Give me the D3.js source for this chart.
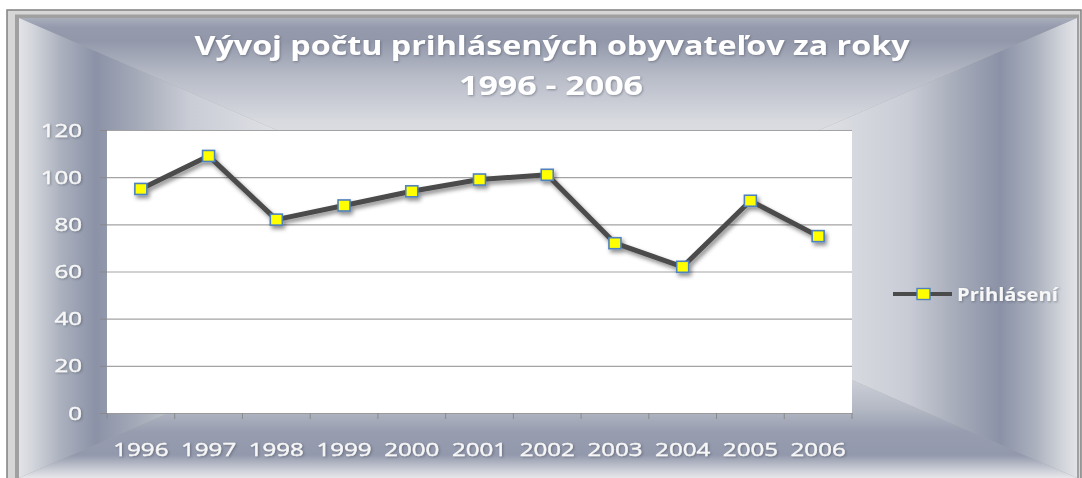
<!DOCTYPE html>
<html><head><meta charset="utf-8">
<script src="https://cdn.jsdelivr.net/npm/d3@7"></script>
<style>body{margin:0;background:#fff}svg{display:block}</style>
</head><body>
<svg id="chart" width="1082" height="478"></svg>
<script>
const categories = ["1996","1997","1998","1999","2000","2001","2002","2003","2004","2005","2006"];
const values = [95,109,82,88,94,99,101,72,62,90,75];
const yTicks = [0,20,40,60,80,100,120];
const seriesName = "Prihlásení";
const titleLines = ["Vývoj počtu prihlásených obyvateľov za roky","1996 - 2006"];

const svg = d3.select("#chart");
const defs = svg.append("defs");
const FONT = "'Open Sans', 'DejaVu Sans', sans-serif";

// frame
svg.append("rect").attr("x",7).attr("y",10).attr("width",1074).attr("height",470)
  .attr("fill","#d6d6d6").attr("stroke","#808080").attr("stroke-width",1.5);
svg.append("rect").attr("x",15).attr("y",14.5).attr("width",1064).attr("height",466)
  .attr("fill","#a0a0a0");

// interior rectangular gradient
const X0=19, Y0=18, X1=1077, Y1=478, CX=548, CY=248;
function grad(id, x1,y1,x2,y2, stops){
  const g = defs.append("linearGradient").attr("id",id).attr("gradientUnits","userSpaceOnUse")
    .attr("x1",x1).attr("y1",y1).attr("x2",x2).attr("y2",y2);
  stops.forEach(s=>g.append("stop").attr("offset",s[0]).attr("stop-color",s[1]));
}
const sideStops = [[0,"#e2e3e8"],[0.025,"#d3d6dc"],[0.08,"#aab0bd"],[0.145,"#8b92a7"],[0.22,"#a3a9b7"],[0.32,"#c9ccd5"],[0.5,"#e0e2e6"],[1,"#f6f6f8"]];
grad("gL", X0,0,CX,0, sideStops);
grad("gR", X1,0,CX,0, sideStops);
grad("gT", 0,Y0,0,CY, [[0,"#a9aebb"],[0.04,"#959bad"],[0.1,"#9298aa"],[0.25,"#b7bbc7"],[0.45,"#d8dae0"],[1,"#f6f6f8"]]);
grad("gB", 0,Y1,0,CY, [[0,"#e6e7eb"],[0.03,"#cfd2d9"],[0.1,"#9399ac"],[0.2,"#979daf"],[0.3,"#b3b8c4"],[0.5,"#dadce2"],[1,"#f6f6f8"]]);
const tri = (pts, f) => svg.append("polygon").attr("points", pts.map(p=>p.join(",")).join(" ")).attr("fill", f);
tri([[X0,Y0],[X1,Y0],[CX,CY]], "url(#gT)");
tri([[X0,Y1],[X1,Y1],[CX,CY]], "url(#gB)");
tri([[X0,Y0],[X0,Y1],[CX,CY]], "url(#gL)");
tri([[X1,Y0],[X1,Y1],[CX,CY]], "url(#gR)");

// filters
const fs = defs.append("filter").attr("id","shadow").attr("x","-20%").attr("y","-20%").attr("width","140%").attr("height","140%");
fs.append("feDropShadow").attr("dx",2).attr("dy",3).attr("stdDeviation",2).attr("flood-color","#000").attr("flood-opacity",0.45);
const ft = defs.append("filter").attr("id","tshadow").attr("x","-10%").attr("y","-30%").attr("width","120%").attr("height","160%");
ft.append("feDropShadow").attr("dx",1).attr("dy",1).attr("stdDeviation",1).attr("flood-color","#3a4050").attr("flood-opacity",0.45);

// scales
const x = d3.scaleBand().domain(categories).range([107,852]);
const y = d3.scaleLinear().domain([0,120]).range([413,130]);

// plot area
svg.append("rect").attr("x",x.range()[0]).attr("y",y(120)).attr("width",x.range()[1]-x.range()[0])
  .attr("height",y(0)-y(120)).attr("fill","#ffffff");

// gridlines
svg.append("g").selectAll("line").data(yTicks.filter(d=>d>0)).join("line")
  .attr("x1",x.range()[0]).attr("x2",x.range()[1]).attr("y1",d=>y(d)+0.5).attr("y2",d=>y(d)+0.5)
  .attr("stroke","#a3a3a3").attr("stroke-width",1.2);

// y axis
const gy = svg.append("g").attr("transform",`translate(${x.range()[0]},0)`)
  .call(d3.axisLeft(y).tickValues(yTicks).tickSize(7).tickPadding(18));
gy.select(".domain").remove();
gy.selectAll(".tick line").attr("stroke","#8a8a8a");
gy.selectAll(".tick text").attr("x",0).attr("transform","translate(-25,0) scale(1.27,1)")
  .attr("fill","#f7f7f7").attr("stroke","#f7f7f7").attr("stroke-width",0.4)
  .attr("font-family",FONT).attr("font-size",19)
  .attr("filter","url(#tshadow)");

// x axis
const gx = svg.append("g").attr("transform",`translate(0,${y(0)})`)
  .call(d3.axisBottom(x).tickSize(0));
gx.select(".domain").attr("stroke","#9a9a9a").attr("stroke-width",1.2);
gx.selectAll(".tick text").attr("y",0).attr("dy",0).attr("transform","translate(0,43) scale(1.27,1)")
  .attr("fill","#f7f7f7").attr("stroke","#f7f7f7").attr("stroke-width",0.4)
  .attr("font-family",FONT).attr("font-size",19)
  .attr("filter","url(#tshadow)");
const bounds = categories.map(c=>x(c)).concat([x.range()[1]]);
gx.append("g").selectAll("line").data(bounds).join("line")
  .attr("x1",d=>d).attr("x2",d=>d).attr("y1",0).attr("y2",6).attr("stroke","#8a8a8a");

// series
const data = categories.map((c,i)=>({c, v: values[i]}));
const cx = d => x(d.c) + x.bandwidth()/2;
const sg = svg.append("g").attr("filter","url(#shadow)");
sg.append("path").datum(data)
  .attr("d", d3.line().x(cx).y(d=>y(d.v)))
  .attr("fill","none").attr("stroke","#4b4b4b").attr("stroke-width",5).attr("stroke-linejoin","round");
sg.selectAll("rect").data(data).join("rect")
  .attr("x",d=>cx(d)-6).attr("y",d=>y(d.v)-5.5).attr("width",12).attr("height",11)
  .attr("fill","#ffff00").attr("stroke","#4f81bd").attr("stroke-width",1.6);

// legend
const lg = svg.append("g");
lg.append("line").attr("x1",893).attr("x2",952).attr("y1",294).attr("y2",294)
  .attr("stroke","#4b4b4b").attr("stroke-width",4);
lg.append("rect").attr("x",917).attr("y",288.5).attr("width",13).attr("height",11)
  .attr("fill","#ffff00").attr("stroke","#4f81bd").attr("stroke-width",1.4);
lg.append("text").attr("transform","translate(957,301) scale(1.12,1)").text(seriesName)
  .attr("fill","#f7f7f7").attr("font-family",FONT).attr("font-weight","bold").attr("font-size",18)
  .attr("filter","url(#tshadow)");

// title
const tg = svg.append("g").attr("filter","url(#tshadow)");
tg.append("text").attr("x",552).attr("y",55).attr("text-anchor","middle").text(titleLines[0])
  .attr("fill","#ffffff").attr("font-family",FONT).attr("font-weight","bold").attr("font-size",27)
  .attr("textLength",715).attr("lengthAdjust","spacingAndGlyphs");
tg.append("text").attr("x",551).attr("y",95).attr("text-anchor","middle").text(titleLines[1])
  .attr("fill","#ffffff").attr("font-family",FONT).attr("font-weight","bold").attr("font-size",26)
  .attr("textLength",184).attr("lengthAdjust","spacingAndGlyphs");
</script>
</body></html>
